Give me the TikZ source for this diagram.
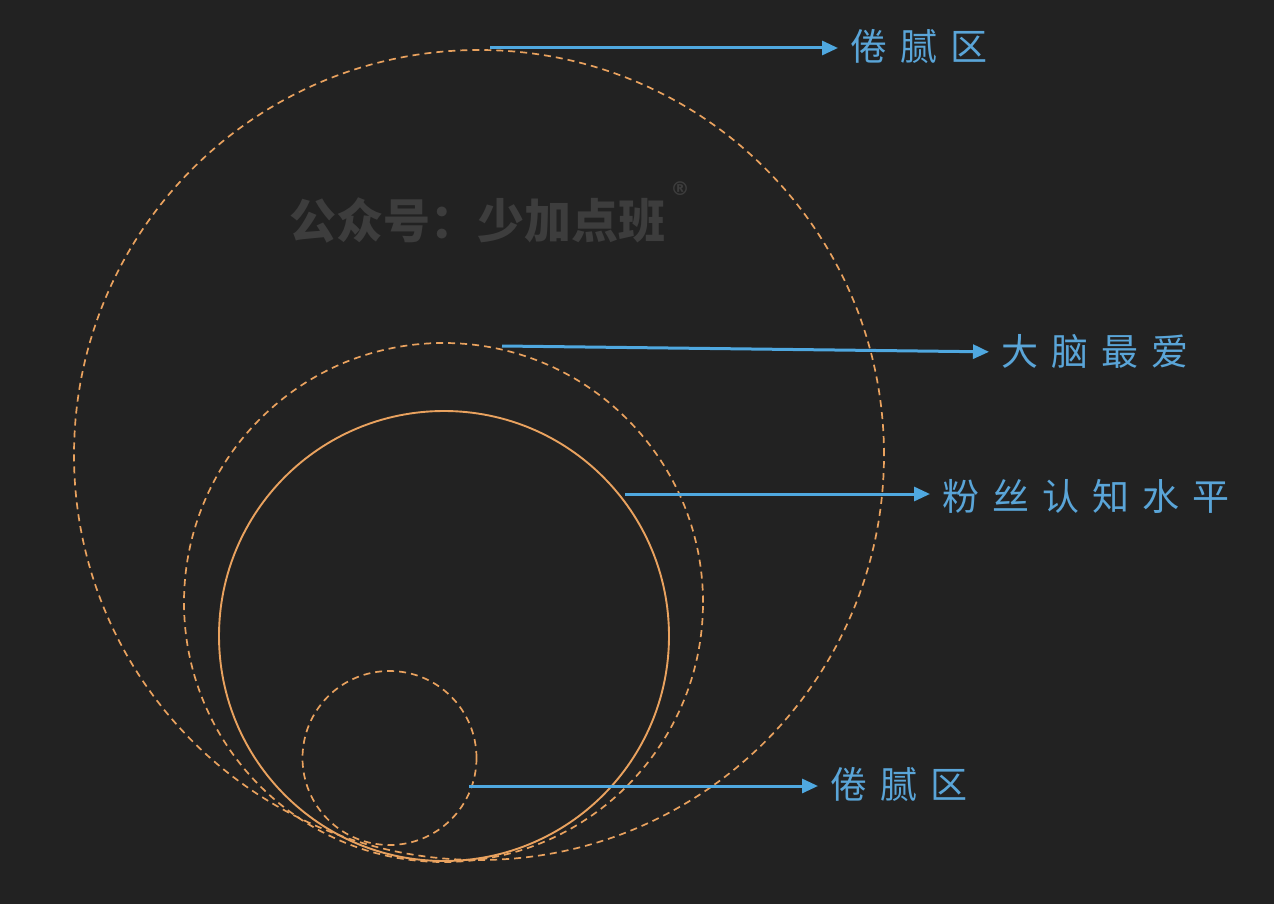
\documentclass[tikz,border=0pt]{standalone}
\usepackage{fontspec}
\newfontfamily\cjk{Noto Sans CJK SC}
\newfontfamily\symf{DejaVu Sans}
\usetikzlibrary{arrows.meta}
\definecolor{bgc}{HTML}{222222}
\definecolor{orng}{HTML}{E9A25F}
\definecolor{arrc}{HTML}{4FA8E0}
\definecolor{txtc}{HTML}{5AA5D8}
\definecolor{wmc}{HTML}{3D3D3D}
\newcommand{\gp}{\kern13pt}
\tikzset{
  ringdash/.style={draw=orng, line width=1.7pt, dash pattern=on 7pt off 5pt},
  ringsolid/.style={draw=orng, line width=1.9pt},
  arr/.style={draw=arrc, line width=3pt, -{Triangle[length=16pt,width=14pt]}, shorten >=12pt},
  lbl/.style={anchor=west, inner sep=0pt, text=txtc, font=\cjk\fontsize{37}{40}\selectfont},
  wm/.style={inner sep=0pt, text=wmc, font=\cjk\bfseries\fontsize{47}{50}\selectfont}
}
\begin{document}
\begin{tikzpicture}[x=1pt,y=-1pt]
\fill[bgc] (0,0) rectangle (1274,904);
\useasboundingbox (0,0) rectangle (1274,904);
% watermark
\node[wm] (wmark) at (477,220) {公众号：少加点班};
\node[inner sep=0pt, text=wmc, font=\symf\bfseries\fontsize{19}{21}\selectfont] (reg) at (680,189) {®};
% circles
\draw[ringdash] (479,455) circle[radius=405pt];
\draw[ringdash] (443.5,602.5) circle[radius=259.5pt];
\draw[ringsolid] (444,636) circle[radius=225pt];
\draw[ringdash] (389.5,758) circle[radius=87pt];
% arrow starts
\coordinate (s1) at (490,48);
\coordinate (s2) at (502,346);
\coordinate (s3) at (625,494);
\coordinate (s4) at (469,786);
% labels
\node[lbl] (t1) at (850,47) {倦\gp 腻\gp 区};
\node[lbl] (t2) at (1001,352) {大\gp 脑\gp 最\gp 爱};
\node[lbl] (t3) at (942,496) {粉\gp 丝\gp 认\gp 知\gp 水\gp 平};
\node[lbl] (t4) at (830,785) {倦\gp 腻\gp 区};
% arrows
\draw[arr] (s1) -- (t1.west |- s1);
\draw[arr] (s2) -- (t2.west);
\draw[arr] (s3) -- (t3.west |- s3);
\draw[arr] (s4) -- (t4.west |- s4);
\end{tikzpicture}
\end{document}
